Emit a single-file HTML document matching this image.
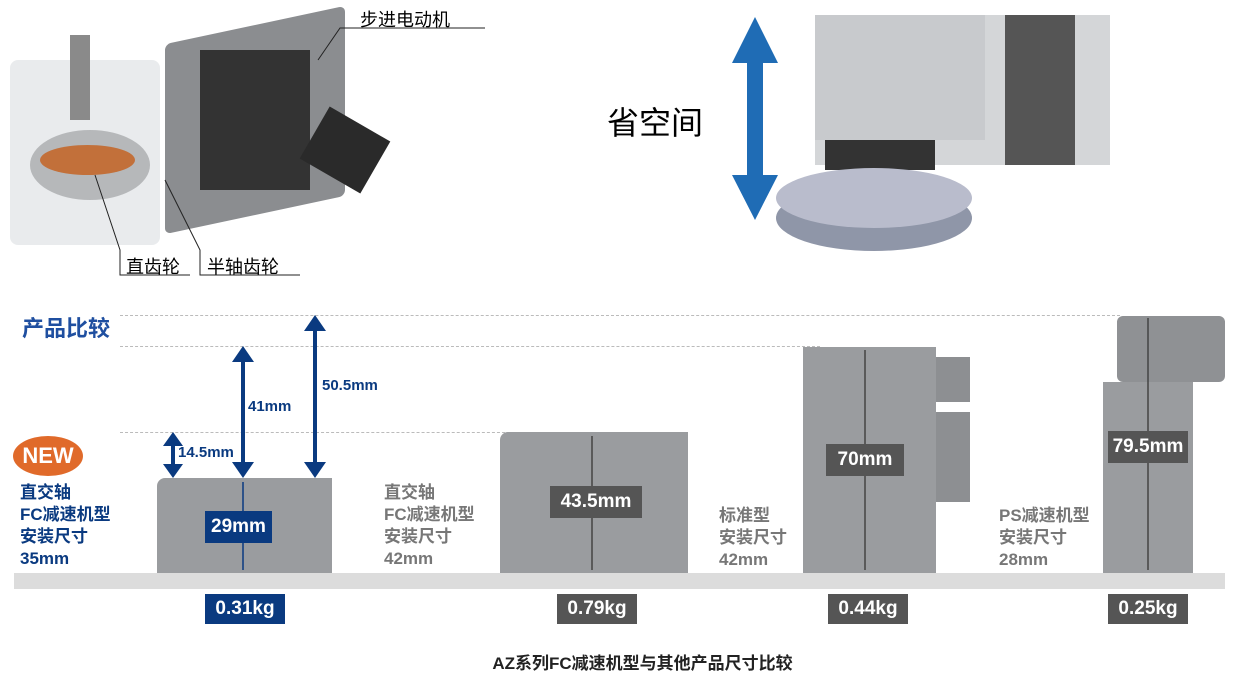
<!DOCTYPE html>
<html><head><meta charset="utf-8"><style>
body{margin:0;width:1235px;height:678px;background:#fff;position:relative;overflow:hidden;font-family:"Liberation Sans","Noto Sans CJK SC",sans-serif}
.a{position:absolute}
.dash{position:absolute;height:0;border-top:1.5px dashed #bbb}
.g{position:absolute;background:#9a9c9f}
.lab{position:absolute;color:#fff;font-weight:bold;font-size:19px;text-align:center;line-height:32px}
.t{position:absolute;font-weight:bold;font-size:17px;line-height:22px}
</style></head><body>
<div class="a" style="left:10px;top:60px;width:150px;height:185px;background:#e4e6e8;border-radius:8px;opacity:.8"></div>
<div class="a" style="left:165px;top:25px;width:180px;height:190px;background:#8b8d90;transform:skewY(-12deg);border-radius:6px"></div>
<div class="a" style="left:200px;top:50px;width:110px;height:140px;background:#333"></div>
<div class="a" style="left:30px;top:130px;width:120px;height:70px;border-radius:50%;background:#b6b8ba"></div>
<div class="a" style="left:40px;top:145px;width:95px;height:30px;border-radius:50%;background:#c2703a"></div>
<div class="a" style="left:70px;top:35px;width:20px;height:85px;background:#8a8a8a"></div>
<div class="a" style="left:310px;top:120px;width:70px;height:60px;background:#2a2a2a;transform:rotate(30deg)"></div>
<svg class="a" style="left:0;top:0" width="500" height="290"><g stroke="#222" fill="none" stroke-width="1"><polyline points="318,60 340,28 485,28"/><polyline points="95,175 120,250 120,275 190,275"/><polyline points="165,180 200,250 200,275 300,275"/></g></svg>
<div class="a" style="left:360px;top:6px;font-size:18px">步进电动机</div>
<div class="a" style="left:126px;top:253px;font-size:18px">直齿轮</div>
<div class="a" style="left:207px;top:253px;font-size:18px">半轴齿轮</div>
<div class="a" style="left:607px;top:98px;font-size:32px">省空间</div>
<svg class="a" style="left:730px;top:15px" width="50" height="210"><polygon points="25,2 48,48 33,48 33,160 48,160 25,205 2,160 17,160 17,48 2,48" fill="#1f6cb5"/></svg>
<div class="a" style="left:815px;top:15px;width:295px;height:150px;background:#d4d6d8"></div>
<div class="a" style="left:1005px;top:15px;width:70px;height:150px;background:#555"></div>
<div class="a" style="left:815px;top:15px;width:170px;height:125px;background:#c8cacd"></div>
<div class="a" style="left:825px;top:140px;width:110px;height:30px;background:#333"></div>
<div class="a" style="left:776px;top:185px;width:196px;height:66px;border-radius:50%;background:#8f96a8"></div>
<div class="a" style="left:776px;top:168px;width:196px;height:60px;border-radius:50%;background:#b9bccc"></div>
<div class="t" style="left:22px;top:318px;color:#1f4fa0;font-size:22px">产品比较</div>
<div class="dash" style="left:120px;top:315px;width:1000px"></div>
<div class="dash" style="left:120px;top:346px;width:700px"></div>
<div class="dash" style="left:120px;top:432px;width:390px"></div>
<div class="a" style="left:14px;top:573px;width:1211px;height:16px;background:#dcdcdc"></div>
<div class="g" style="left:157px;top:478px;width:175px;height:95px;border-radius:8px 0 0 0"></div>
<div class="g" style="left:500px;top:432px;width:188px;height:141px;border-radius:8px 0 0 0"></div>
<div class="g" style="left:803px;top:347px;width:133px;height:226px"></div>
<div class="g" style="left:936px;top:357px;width:34px;height:45px;background:#8d8f92"></div>
<div class="g" style="left:936px;top:412px;width:34px;height:90px;background:#8d8f92"></div>
<div class="g" style="left:1103px;top:382px;width:90px;height:191px"></div>
<div class="g" style="left:1117px;top:316px;width:108px;height:66px;border-radius:6px;background:#8f9194"></div>
<svg class="a" style="left:0;top:0" width="1235" height="678">
<g fill="#0a3a80" stroke="#0a3a80" stroke-width="4">
<line x1="173" y1="440" x2="173" y2="470"/><polygon points="173,432 163,446 183,446" stroke="none"/><polygon points="173,478 163,464 183,464" stroke="none"/>
<line x1="243" y1="356" x2="243" y2="468"/><polygon points="243,346 232,362 254,362" stroke="none"/><polygon points="243,478 232,462 254,462" stroke="none"/>
<line x1="315" y1="325" x2="315" y2="468"/><polygon points="315,315 304,331 326,331" stroke="none"/><polygon points="315,478 304,462 326,462" stroke="none"/>
<line x1="243" y1="482" x2="243" y2="570" stroke-width="1.5"/>
</g>
<g stroke="#444" stroke-width="1.5" fill="#444">
<line x1="592" y1="436" x2="592" y2="570"/><line x1="865" y1="350" x2="865" y2="570"/><line x1="1148" y1="318" x2="1148" y2="570"/>
</g></svg>
<div class="t" style="left:248px;top:396px;color:#0a3a80;font-size:15px">41mm</div>
<div class="t" style="left:322px;top:375px;color:#0a3a80;font-size:15px">50.5mm</div>
<div class="t" style="left:178px;top:442px;color:#0a3a80;font-size:15px">14.5mm</div>
<div class="a" style="left:13px;top:436px;width:70px;height:40px;border-radius:50%;background:#e06a2a;color:#fff;font-weight:bold;font-size:22px;text-align:center;line-height:40px">NEW</div>
<div class="t" style="left:20px;top:482px;color:#0a3a80">直交轴<br>FC减速机型<br>安装尺寸<br>35mm</div>
<div class="t" style="left:384px;top:482px;color:#777">直交轴<br>FC减速机型<br>安装尺寸<br>42mm</div>
<div class="t" style="left:719px;top:505px;color:#777">标准型<br>安装尺寸<br>42mm</div>
<div class="t" style="left:999px;top:505px;color:#777">PS减速机型<br>安装尺寸<br>28mm</div>
<div class="lab" style="left:205px;top:511px;width:67px;background:#0a3a80">29mm</div>
<div class="lab" style="left:550px;top:486px;width:92px;background:#555">43.5mm</div>
<div class="lab" style="left:826px;top:444px;width:78px;background:#555">70mm</div>
<div class="lab" style="left:1108px;top:431px;width:80px;background:#555">79.5mm</div>
<div class="lab" style="left:205px;top:594px;width:80px;background:#0a3a80;line-height:30px">0.31kg</div>
<div class="lab" style="left:557px;top:594px;width:80px;background:#555;line-height:30px">0.79kg</div>
<div class="lab" style="left:828px;top:594px;width:80px;background:#555;line-height:30px">0.44kg</div>
<div class="lab" style="left:1108px;top:594px;width:80px;background:#555;line-height:30px">0.25kg</div>
<div class="a" style="left:0;width:1235px;top:649px;text-align:center;font-size:17px;font-weight:bold;color:#222;padding-left:50px;box-sizing:border-box">AZ系列FC减速机型与其他产品尺寸比较</div>
</body></html>
